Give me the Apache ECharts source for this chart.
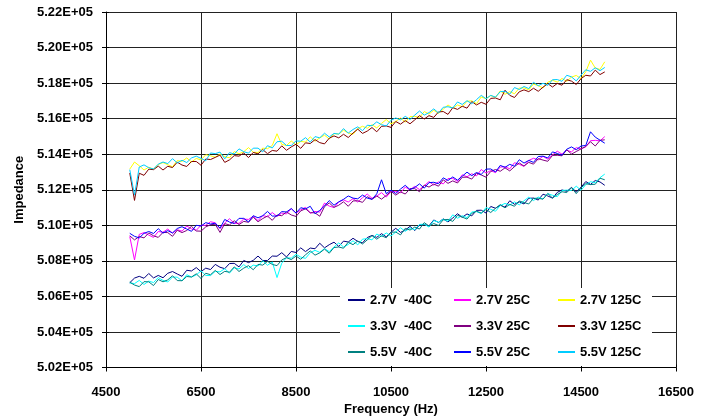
<!DOCTYPE html>
<html>
<head>
<meta charset="utf-8">
<script src="https://cdn.jsdelivr.net/npm/echarts@6/dist/echarts.min.js"></script>
<style>html,body{margin:0;padding:0;background:#fff}#c{width:709px;height:416px}</style>
</head>
<body>
<div id="c"></div>
<script>
const freq = [5000,5100,5200,5300,5400,5500,5600,5700,5800,5900,
6000,6100,6200,6300,6400,6500,6600,6700,6800,6900,
7000,7100,7200,7300,7400,7500,7600,7700,7800,7900,
8000,8100,8200,8300,8400,8500,8600,8700,8800,8900,
9000,9100,9200,9300,9400,9500,9600,9700,9800,9900,
10000,10100,10200,10300,10400,10500,10600,10700,10800,10900,
11000,11100,11200,11300,11400,11500,11600,11700,11800,11900,
12000,12100,12200,12300,12400,12500,12600,12700,12800,12900,
13000,13100,13200,13300,13400,13500,13600,13700,13800,13900,
14000,14100,14200,14300,14400,14500,14600,14700,14800,14900,
15000];

const seriesNames = ['2.7V  -40C','2.7V 25C','2.7V 125C','3.3V  -40C','3.3V 25C','3.3V 125C','5.5V  -40C','5.5V 25C','5.5V 125C'];
const seriesColors = ['#000080','#FF00FF','#FFFF00','#00FFFF','#800080','#800000','#008080','#0000FF','#00CCFF'];

const v27m40 = [506770,507030,507130,507020,507290,507040,507180,507050,507300,507400,
507260,507130,507470,507430,507620,507390,507590,507510,507800,507640,
507560,507850,507860,507660,508020,507900,508030,508270,508020,508020,
508270,508260,508460,508220,508530,508470,508730,508520,508720,508680,
508990,508730,508910,509050,508810,509110,509060,509270,509090,509010,
509310,509430,509320,509530,509350,509610,509830,509600,509730,509940,
509700,510020,510040,509970,510300,510160,510360,510190,510410,510650,
510450,510640,510530,510840,510850,510690,511060,510960,511130,511020,
511380,511180,511320,511200,511520,511530,511420,511750,511650,511530,
511850,511990,511910,512130,511880,512140,512460,512300,512520,512440,
512250];
const v27p25 = [509370,508050,509490,509590,509450,509320,509650,509610,509790,509560,
509750,509670,509960,509800,509720,510000,510000,510200,510140,509810,
510130,510370,510110,510110,510350,510330,510510,510260,510550,510480,
510720,510500,510690,510640,510940,510680,510870,511010,510680,510780,
510740,511250,511080,511000,511310,511430,511310,511500,511310,511550,
511760,511520,511640,511840,511590,511900,511910,511830,512150,512000,
512190,512010,512230,512460,512260,512440,512330,512630,512640,512470,
512840,512730,512900,512780,513140,512940,513080,512960,513280,513290,
513180,513520,513430,513320,513650,513770,513680,513880,513720,513960,
514170,514000,514220,514130,514370,514300,514420,514760,514780,514750,
514990];
const v27p125 = [513160,513560,513350,513110,513270,513150,513420,513530,513410,513290,
513640,513600,513790,513560,513760,513680,513970,513910,513830,514010,
513860,513800,514150,514020,514140,514370,514110,514100,514340,514310,
514490,515150,514550,514490,514740,514530,514720,514680,514980,514730,
514920,515070,514850,515160,515130,515350,515190,515120,515440,515570,
515460,515660,515480,515730,515950,515710,515840,516040,515800,516110,
516130,516060,516400,516260,516470,516300,516530,516770,516580,516770,
516670,516980,517000,516840,517220,517120,517300,517190,517560,517370,
517520,517400,517720,517730,517620,517950,517850,517730,518050,518160,
518060,518260,518100,518340,518430,518250,518640,519290,518850,518770,
519200];
const v33m40 = [506760,506720,506900,506670,506860,506780,507060,506900,506810,507090,
507080,506870,507220,507090,507210,507440,507180,507170,507410,507380,
507560,507310,507610,507540,507790,507570,507760,507710,508010,507750,
507940,507060,507870,508180,508150,508370,508210,508140,508460,508590,
508480,508690,508520,508780,509010,508780,508920,509130,508900,509220,
509250,509180,509510,509370,509570,509400,509620,509860,509660,509850,
509740,510050,510060,509900,510270,510170,510340,510230,510590,510400,
510540,510430,510750,510770,510660,511000,510900,510790,511110,511230,
511130,511320,511150,511380,511580,511390,511590,511480,511780,511690,
511610,511960,511980,511960,512200,511970,512290,512450,512400,512680,
512880];
const v33p25 = [509410,509180,509370,509290,509570,509410,509320,509600,509590,509380,
509720,509590,509710,509940,509680,509670,509910,510030,510060,509600,
510090,510020,510260,510040,510220,510170,510460,510200,510380,510520,
510280,510580,510540,510750,510580,510500,510810,510930,510710,510700,
510510,511050,511260,511010,511130,511320,511070,511370,511380,511290,
511610,511460,511650,511470,511680,511910,511700,511880,511760,512060,
512060,511890,512260,512150,512320,512200,512560,512360,512500,512380,
512700,512710,512600,512930,512830,512710,513030,513140,513040,513230,
513060,513300,513510,513330,513540,513440,513750,513670,513600,513930,
513940,513910,514250,514010,514150,514300,514430,514700,514460,514780,
514810];
const v33p125 = [512940,511400,512930,512810,513160,513130,513330,513110,513320,513250,
513550,513390,513310,513590,513590,513380,513730,513700,513820,513950,
513540,513680,513920,513890,514070,513810,514100,514020,514260,514030,
514210,514170,514470,514220,514410,514560,514330,514640,514600,514820,
514650,514580,514900,515030,514920,515120,514940,515190,515410,515170,
515300,515500,515260,515570,515590,515510,515840,515690,515890,515710,
515930,516170,515980,516170,516070,516380,516400,516240,516620,516520,
516700,516590,516960,516770,516920,516810,517140,517160,517060,517600,
517310,517190,517510,517620,517520,517710,517540,517770,517970,517780,
517980,517880,518190,518110,517920,518250,518440,518400,518730,518480,
518630];
const v55m40 = [506800,506640,506550,506830,506820,506610,506950,506820,506930,507160,
506890,506880,507120,507090,507270,507010,507300,507220,507460,507230,
507410,507360,507660,507400,507590,507730,507500,507800,507760,507970,
507800,507730,508050,508180,508070,508270,508090,508340,508560,508320,
508450,508660,508430,508750,508780,508710,509050,508910,509120,508950,
509180,509420,509220,509410,509300,509610,509620,509460,509830,509730,
509900,509790,510150,509960,510100,509990,510310,510330,510220,510560,
510460,510350,510670,510790,510690,510890,510720,510960,511160,510980,
511180,511070,511370,511280,511200,511520,511520,511470,511790,511530,
511730,511890,511840,512120,511780,512110,512340,512290,512310,512650,
512560];
const v55p25 = [509550,509380,509290,509550,509650,509540,509810,509560,509700,509570,
509820,509920,509790,509660,510000,509960,510150,510070,510120,509840,
510330,510180,510100,510390,510390,510190,510540,510420,510540,510780,
510520,510520,510770,510750,510940,510690,510990,510920,511070,510650,
510840,511090,511390,511130,511320,511460,511650,511530,511490,511700,
511530,511460,511770,512560,511780,511980,511790,512040,512250,512010,
512130,512330,512090,512400,512420,512340,512670,512520,512720,512540,
512760,512990,512790,512970,512860,513160,513170,513000,513370,513260,
513430,513320,513690,513500,513650,513540,513870,513890,513790,514130,
514040,513940,514280,514410,514250,514460,514490,515260,514960,514790,
514620];
const v55p125 = [513130,511700,513280,513400,513240,513170,513440,513560,513470,513750,
513510,513660,513530,513790,513890,513760,513630,514070,514030,514120,
513740,514090,514010,514300,514140,514060,514340,514340,514130,514480,
514350,514700,514730,514490,514490,514750,514730,514930,514680,514990,
514920,515180,514970,515170,515130,515440,515190,515390,515540,515320,
515630,515600,515820,515660,515590,515910,516040,515930,516130,515950,
516200,516430,516200,516340,516550,516320,516640,516670,516600,516940,
516800,517010,516840,517070,517310,517120,517310,517210,517520,517540,
517380,517750,517640,517810,517690,518050,517850,517990,517870,518190,
518200,518100,518440,518350,518120,518450,518750,518660,518860,518700,
518880];

const seriesValues = [v27m40, v27p25, v27p125, v33m40, v33p25, v33p125, v55m40, v55p25, v55p125];

const xTicks = {min: 4500, max: 16500, step: 2000};
const yTicks = {min: 502000, max: 522000, step: 2000};

const FONT = '"Liberation Sans", Arial, Helvetica, sans-serif';
const chart = echarts.init(document.getElementById('c'), null, {renderer: 'canvas'});

const legendCols = [348, 454, 558];
const legendRows = [300, 326, 352];
const legends = seriesNames.map((n, i) => ({
  data: [n],
  left: legendCols[i % 3],
  top: legendRows[Math.floor(i / 3)] - 7,
  padding: 0,
  icon: 'rect',
  itemWidth: 17,
  itemHeight: 2,
  selectedMode: false,
  textStyle: {fontFamily: FONT, fontWeight: 'bold', fontSize: 13, color: '#000', lineHeight: 14}
}));

const labelStyle = {fontFamily: FONT, fontWeight: 'bold', fontSize: 13, color: '#000'};

chart.setOption({
  animation: false,
  backgroundColor: '#fff',
  grid: {left: 106, right: 33, top: 12, bottom: 48.5, containLabel: false, outerBoundsMode: 'none'},
  xAxis: [{
    type: 'value', min: xTicks.min, max: xTicks.max, interval: xTicks.step, position: 'bottom',
    name: 'Frequency (Hz)', nameLocation: 'middle', nameGap: 33,
    nameTextStyle: labelStyle,
    axisLine: {lineStyle: {color: '#000', width: 1}},
    axisTick: {show: true, inside: false, length: 4, lineStyle: {color: '#000'}},
    axisLabel: Object.assign({margin: 18, formatter: v => String(v)}, labelStyle),
    splitLine: {show: true, lineStyle: {color: '#222', width: 1}}
  }, {
    type: 'value', min: xTicks.min, max: xTicks.max, interval: xTicks.step, position: 'bottom',
    axisLine: {show: false},
    axisTick: {show: true, inside: true, length: 3, lineStyle: {color: '#000'}},
    axisLabel: {show: false}, splitLine: {show: false}
  }],
  yAxis: [{
    type: 'value', min: yTicks.min, max: yTicks.max, interval: yTicks.step, position: 'left',
    name: 'Impedance', nameLocation: 'middle', nameGap: 77,
    nameTextStyle: labelStyle,
    axisLine: {show: true, lineStyle: {color: '#000', width: 1}},
    axisTick: {show: true, inside: false, length: 4, lineStyle: {color: '#000'}},
    axisLabel: Object.assign({margin: 13, formatter: v => (v / 100000).toFixed(2) + 'E+05'}, labelStyle),
    splitLine: {show: true, lineStyle: {color: '#222', width: 1}}
  }, {
    type: 'value', min: yTicks.min, max: yTicks.max, interval: yTicks.step, position: 'left',
    axisLine: {show: false},
    axisTick: {show: true, inside: true, length: 3, lineStyle: {color: '#000'}},
    axisLabel: {show: false}, splitLine: {show: false}
  }],
  legend: legends,
  graphic: {elements: [{type: 'rect', left: 340, top: 288, z: 3,
    shape: {width: 312, height: 78}, style: {fill: '#fff'}}]},
  series: seriesNames.map((n, i) => ({
    name: n, type: 'line', showSymbol: false, symbol: 'none',
    xAxisIndex: 0, yAxisIndex: 0,
    color: seriesColors[i],
    lineStyle: {width: 1, color: seriesColors[i]},
    data: freq.map((f, k) => [f, seriesValues[i][k]])
  }))
});
</script>
</body>
</html>
